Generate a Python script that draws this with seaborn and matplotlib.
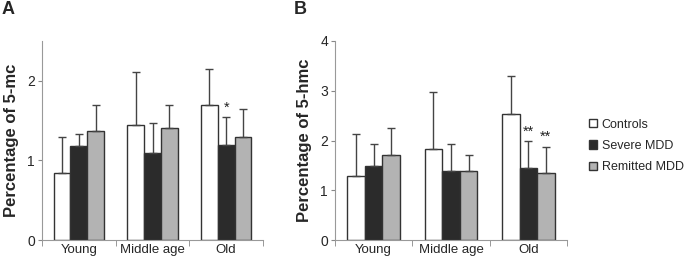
import numpy as np
import pandas as pd
import seaborn as sns
import matplotlib.pyplot as plt
from matplotlib.patches import Patch

# Values
ages = ["Young", "Middle age", "Old"]
groups = ["Controls", "Severe MDD", "Remitted MDD"]
colors = ["#ffffff", "#2b2b2b", "#b3b3b3"]

# panel A: 5-mc (rows = groups, cols = ages)
mc_mean = [[0.84, 1.445, 1.69],
           [1.18, 1.09, 1.19],
           [1.375, 1.41, 1.295]]
mc_err = [[0.45, 0.665, 0.46],
          [0.15, 0.385, 0.35],
          [0.325, 0.28, 0.345]]
mc_stars = [["", "", ""], ["", "", "*"], ["", "", ""]]

# panel B: 5-hmc
hmc_mean = [[1.28, 1.83, 2.53],
            [1.49, 1.39, 1.44],
            [1.70, 1.39, 1.35]]
hmc_err = [[0.85, 1.15, 0.76],
           [0.44, 0.54, 0.54],
           [0.56, 0.32, 0.52]]
hmc_stars = [["", "", ""], ["", "", "**"], ["", "", "**"]]

sns.set_style("ticks")
plt.rcParams["font.family"] = ["Liberation Sans", "DejaVu Sans"]

fig = plt.figure(figsize=(6.89, 2.59), dpi=100)
axA = fig.add_axes([42 / 689, 1 - 240 / 259, (263 - 42) / 689, 199 / 259])
axB = fig.add_axes([335 / 689, 1 - 240 / 259, (567 - 335) / 689, 199 / 259])


def panel(ax, mean, err, stars, ylim, yticks, ylabel, letter, letter_x):
    rows = []
    for g, grp in enumerate(groups):
        for a, age in enumerate(ages):
            rows.append({"age": age, "group": grp, "value": mean[g][a]})
    df = pd.DataFrame(rows)
    sns.barplot(data=df, x="age", y="value", hue="group", order=ages,
                hue_order=groups, palette=colors, edgecolor="#333333",
                linewidth=1, errorbar=None, width=0.68, gap=0,
                legend=False, ax=ax)
    bars = list(ax.containers)
    for g, cont in enumerate(bars):
        for a, p in enumerate(cont.patches):
            x = p.get_x() + p.get_width() / 2
            y = p.get_height()
            e = err[g][a]
            ax.errorbar(x, y, yerr=[[0], [e]], fmt="none", ecolor="#444444",
                        elinewidth=1, capsize=3, capthick=1, zorder=1)
            if stars[g][a]:
                ax.annotate(stars[g][a], (x, y + e), xytext=(0, 2),
                            textcoords="offset points", ha="center",
                            va="bottom", fontsize=10.5, color="#222222")
    ax.set_xlim(-0.5, 2.5)
    ax.set_ylim(*ylim)
    ax.set_yticks(yticks)
    ax.set_xticks([0, 1, 2])
    ax.set_xticks([-0.5, 0.5, 1.5, 2.5], minor=True)
    ax.tick_params(axis="x", which="major", length=0, pad=3, labelsize=9.5)
    ax.tick_params(axis="x", which="minor", length=4, color="#888888")
    ax.tick_params(axis="y", length=3, pad=2, labelsize=10, color="#888888")
    for s in ["top", "right"]:
        ax.spines[s].set_visible(False)
    for s in ["left", "bottom"]:
        ax.spines[s].set_color("#999999")
    ax.set_xlabel("")
    ax.set_ylabel(ylabel, fontsize=12, fontweight="bold", labelpad=6)
    fig.text(letter_x, 1 - 14 / 259, letter, fontsize=13, fontweight="bold")


panel(axA, mc_mean, mc_err, mc_stars, (0, 2.5), [0, 1, 2],
      "Percentage of 5-mc", "A", 2 / 689)
panel(axB, hmc_mean, hmc_err, hmc_stars, (0, 4), [0, 1, 2, 3, 4],
      "Percentage of 5-hmc", "B", 294 / 689)

handles = [Patch(facecolor=c, edgecolor="#333333", linewidth=1) for c in colors]
fig.legend(handles, groups, loc="center left",
           bbox_to_anchor=(584 / 689, 1 - 146 / 259), frameon=False,
           fontsize=9, handlelength=0.65, handleheight=0.65,
           handletextpad=0.35, labelspacing=0.75, borderaxespad=0)

fig.savefig("out.png", dpi=100)
